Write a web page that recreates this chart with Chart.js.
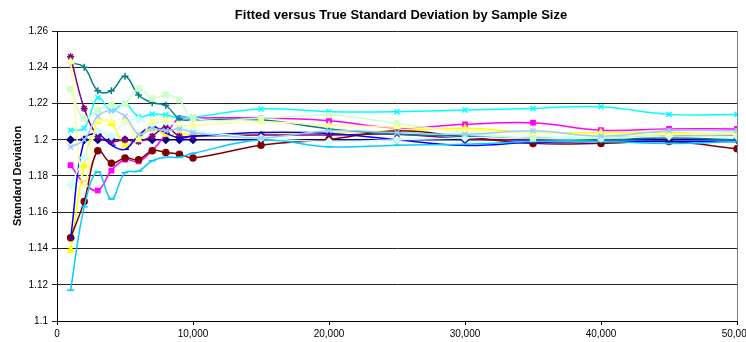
<!DOCTYPE html>
<html lang="en">

<head>
    <meta charset="UTF-8">
    <title>std dev</title>
    <script src="https://cdn.jsdelivr.net/npm/chart.js"></script>
    <style>
        html, body { margin: 0; padding: 0; background: #fff; overflow: hidden; }
    </style>
</head>

<body>
    <canvas id="myChart" width="746" height="342"></canvas>

    <script>
        // sample sizes
        const sizes = [1000, 2000, 3000, 4000, 5000, 6000, 7000, 8000, 9000, 10000,
            15000, 20000, 25000, 30000, 35000, 40000, 45000, 50000];

        const trueSd = [1.2, 1.2, 1.2, 1.2, 1.2, 1.2, 1.2, 1.2, 1.2, 1.2, 1.2, 1.2, 1.2, 1.2, 1.2, 1.2, 1.2, 1.2];
        const fit2 = [1.186, 1.176, 1.172, 1.183, 1.189, 1.188, 1.194, 1.203, 1.212, 1.212, 1.212, 1.2105, 1.2065, 1.2085, 1.2094, 1.2053, 1.206, 1.206];
        const fit3 = [1.139, 1.186, 1.21, 1.209, 1.197, 1.202, 1.206, 1.203, 1.203, 1.203, 1.203, 1.204, 1.205, 1.2063, 1.204, 1.204, 1.204, 1.203];
        const fit4 = [1.2053, 1.2063, 1.2232, 1.216, 1.22, 1.2127, 1.2142, 1.2136, 1.212, 1.2125, 1.217, 1.2155, 1.2155, 1.2164, 1.2173, 1.2182, 1.214, 1.214];
        const fit5 = [1.2458, 1.2173, 1.202, 1.199, 1.2, 1.199, 1.202, 1.207, 1.202, 1.202, 1.2026, 1.2026, 1.203, 1.2005, 1.2, 1.201, 1.202, 1.2025];
        const fit6 = [1.146, 1.166, 1.194, 1.187, 1.19, 1.189, 1.194, 1.193, 1.192, 1.19, 1.197, 1.2002, 1.205, 1.2015, 1.198, 1.198, 1.199, 1.195];
        const fit7 = [1.2425, 1.24, 1.227, 1.227, 1.235, 1.2247, 1.2204, 1.219, 1.2115, 1.211, 1.211, 1.206, 1.203, 1.202, 1.201, 1.2, 1.201, 1.2];
        const fit8 = [1.1456, 1.2, 1.2031, 1.197, 1.1947, 1.2026, 1.2072, 1.2037, 1.201, 1.202, 1.204, 1.2035, 1.2, 1.1969, 1.1986, 1.199, 1.199, 1.199];
        const fit9 = [1.117, 1.163, 1.1823, 1.1673, 1.1818, 1.1827, 1.1884, 1.1903, 1.1903, 1.1925, 1.1998, 1.1961, 1.197, 1.1975, 1.199, 1.199, 1.198, 1.199];
        const fit10 = [1.175, 1.19, 1.205, 1.202, 1.21, 1.211, 1.209, 1.21, 1.207, 1.205, 1.201, 1.199, 1.2, 1.201, 1.202, 1.201, 1.202, 1.202];
        const fit11 = [1.2278, 1.2114, 1.2164, 1.2191, 1.22, 1.2284, 1.2228, 1.2247, 1.2219, 1.212, 1.2118, 1.2136, 1.209, 1.204, 1.2008, 1.201, 1.203, 1.203];
        const fit12 = [1.243, 1.1755, 1.2108, 1.2103, 1.2108, 1.2, 1.21, 1.211, 1.208, 1.208, 1.21, 1.208, 1.207, 1.205, 1.204, 1.203, 1.203, 1.204];
        const fit13 = [1.196, 1.2, 1.213, 1.216, 1.213, 1.203, 1.206, 1.205, 1.206, 1.204, 1.201, 1.205, 1.204, 1.203, 1.205, 1.202, 1.205, 1.205];

        const yMin = 1.1;
        const yMax = 1.26;
        const yStep = 0.02;
        const xMax = 50000;
        const xStep = 10000;

        const titleText = "Fitted versus True Standard Deviation by Sample Size";

        const series = [
            { data: trueSd, color: "#000080", style: "rectRot", r: 3.5 },
            { data: fit2, color: "#FF00FF", style: "rect", r: 3 },
            { data: fit3, color: "#FFFF00", style: "triangle", r: 3.5 },
            { data: fit4, color: "#00FFFF", style: "crossRot", r: 3.5 },
            { data: fit5, color: "#800080", style: "star", r: 3.5 },
            { data: fit6, color: "#800000", style: "circle", r: 3 },
            { data: fit7, color: "#008080", style: "cross", r: 3.5 },
            { data: fit8, color: "#0000FF", style: "dash", r: 4 },
            { data: fit9, color: "#00CCFF", style: "line", r: 3.5 },
            { data: fit10, color: "#CCFFFF", style: "rectRot", r: 3.5 },
            { data: fit11, color: "#CCFFCC", style: "rect", r: 3.5 },
            { data: fit12, color: "#FFFF99", style: "triangle", r: 3.5 },
            { data: fit13, color: "#99CCFF", style: "crossRot", r: 3.5 }
        ];

        const datasets = series.map((s, i) => ({
            data: s.data.map((v, j) => ({ x: sizes[j], y: v })),
            borderColor: s.color,
            backgroundColor: s.color,
            borderWidth: 1.5,
            pointStyle: s.style,
            pointRadius: s.r,
            pointBorderWidth: 1.5,
            tension: 0.4,
            order: series.length - i
        }));

        const frame = {
            id: "frame",
            beforeDatasetsDraw(chart) {
                const a = chart.chartArea;
                const ctx = chart.ctx;
                ctx.save();
                ctx.strokeStyle = "#808080";
                ctx.lineWidth = 1;
                ctx.beginPath();
                ctx.moveTo(a.right + 0.5, a.top);
                ctx.lineTo(a.right + 0.5, a.bottom);
                ctx.stroke();
                ctx.restore();
            },
            afterDraw(chart) {
                const a = chart.chartArea;
                const ctx = chart.ctx;
                ctx.save();
                ctx.fillStyle = "#000";
                ctx.font = "bold 13px 'Liberation Sans', Arial, sans-serif";
                ctx.textAlign = "center";
                ctx.textBaseline = "middle";
                ctx.fillText(titleText, (a.left + a.right) / 2 + 4, 15);
                ctx.restore();
            }
        };

        new Chart("myChart", {
            type: "line",
            data: { datasets: datasets },
            plugins: [frame],
            options: {
                responsive: false,
                animation: false,
                layout: { padding: { top: 31, right: 9, left: 0, bottom: 0 } },
                plugins: {
                    legend: { display: false },
                    tooltip: { enabled: false }
                },
                scales: {
                    x: {
                        type: "linear",
                        min: 0,
                        max: xMax,
                        afterFit: (s) => {
                            s.height = 21;
                            // let the last label run off the edge like the original
                            s.paddingRight = 0;
                            s.paddingLeft = 0;
                        },
                        ticks: {
                            stepSize: xStep,
                            color: "#000",
                            padding: 3,
                            maxRotation: 0,
                            font: { family: "'Liberation Sans', Arial", size: 10 },
                            callback: (v) => v.toLocaleString("en-US")
                        },
                        grid: { drawOnChartArea: false, drawTicks: true, tickLength: 4, color: "#000" },
                        border: { color: "#000", width: 1 }
                    },
                    y: {
                        min: yMin,
                        max: yMax,
                        afterFit: (s) => { s.width = 57; },
                        ticks: {
                            stepSize: yStep,
                            color: "#000",
                            padding: 4,
                            font: { family: "'Liberation Sans', Arial", size: 10 },
                            callback: (v) => String(+v.toFixed(2))
                        },
                        grid: { color: "#222", lineWidth: 1, tickLength: 5 },
                        border: { color: "#000", width: 1 },
                        title: {
                            display: true,
                            text: "Standard Deviation",
                            color: "#000",
                            padding: { top: 11, bottom: 0 },
                            font: { family: "'Liberation Sans', Arial", size: 11, weight: "bold" }
                        }
                    }
                }
            }
        });
    </script>
</body>

</html>
